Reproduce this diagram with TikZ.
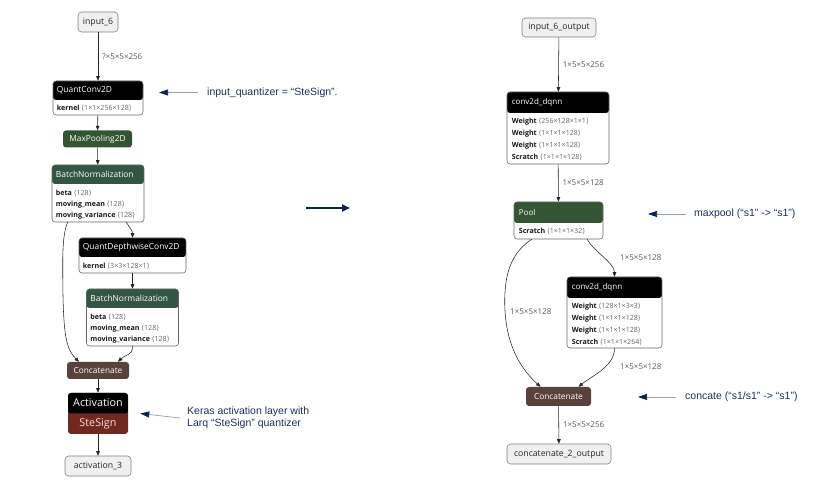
\documentclass[tikz,border=0pt]{standalone}
\usepackage{fontspec}
\setmainfont{Open Sans}
\newfontfamily\annfont{Liberation Sans}
\newfontfamily\brkfont{DejaVu Sans}
\usetikzlibrary{arrows.meta,positioning,calc}
\definecolor{poolgreen}{RGB}{51,85,51}
\definecolor{normgreen}{RGB}{51,85,68}
\definecolor{actred}{RGB}{112,41,33}
\definecolor{tensorbrown}{RGB}{89,66,59}
\definecolor{annblue}{HTML}{1C2F5C}
\definecolor{annline}{HTML}{8FA0B8}
\definecolor{annhead}{HTML}{0B2350}
\newcommand{\shp}[1]{\textcolor{black!60}{{\brkfont ⟨}#1{\brkfont ⟩}}}

\begin{document}
\begin{tikzpicture}[
  x=1pt, y=-1pt,
  edge/.style={draw=black!85, line width=0.55pt, -{Triangle[length=4.5pt,width=3.6pt]}},
  elabel/.style={font=\fontsize{8}{9}\selectfont, text=black!65, inner sep=0pt},
  io/.style={draw=black!50, fill=black!6, rounded corners=3.5pt, line width=0.55pt, inner sep=0pt, font=\fontsize{8.7}{10}\selectfont, text=black!85},
  op/.style={rounded corners=3pt, inner sep=0pt, font=\fontsize{8.3}{10}\selectfont, text=white},
  box/.style 2 args={draw=black!60, fill=white, rounded corners=3pt, line width=0.55pt, inner sep=0pt,
    path picture={\fill[#1] (path picture bounding box.north west) rectangle ([yshift=-#2]path picture bounding box.north east);}},
  hdtxt/.style={font=\fontsize{8.4}{10}\selectfont, text=white, inner sep=0pt, anchor=west},
  bdtxt/.style={font=\fontsize{7.1}{11}\selectfont, text=black!90, align=left, inner sep=0pt, anchor=north west},
  ann/.style={font=\annfont\fontsize{10.5}{12}\selectfont, text=annblue, inner sep=0pt, anchor=west, align=left},
  pointer/.style={draw=annline, line width=0.7pt, -{Triangle[length=9pt,width=6pt,color=annhead]}},
  bigarrow/.style={draw=annhead, line width=2pt, -{Triangle[length=8pt,width=7pt]}}
]
\path[fill=white, use as bounding box] (0,0) rectangle (828,486);

% Keras / Larq model
\node[io, minimum width=40pt, minimum height=20pt] (in6) at (98,22) {input\_6};
\node[box={black}{19pt}, minimum width=90pt, minimum height=34pt] (qconv) at (98,98) {};
\node[hdtxt] (qconvh) at ([xshift=4pt,yshift=-9.5pt]qconv.north west) {QuantConv2D};
\node[bdtxt] (qconvb) at ([xshift=4pt,yshift=-24.5pt]qconv.north west) {\textbf{kernel} \shp{1×1×256×128}};
\node[op, fill=poolgreen, minimum width=69pt, minimum height=17pt] (maxpool) at (97.5,139) {MaxPooling2D};
\node[box={normgreen}{19pt}, minimum width=92pt, minimum height=57pt] (bn1) at (98,193.5) {};
\node[hdtxt] (bn1h) at ([xshift=4pt,yshift=-9.5pt]bn1.north west) {BatchNormalization};
\node[bdtxt] (bn1b) at ([xshift=4pt,yshift=-25.2pt]bn1.north west) {\textbf{beta} \shp{128}\\\textbf{moving\_mean} \shp{128}\\\textbf{moving\_variance} \shp{128}};
\node[box={black}{19pt}, minimum width=107pt, minimum height=35pt] (qdc) at (132.5,255.5) {};
\node[hdtxt] (qdch) at ([xshift=4pt,yshift=-9.5pt]qdc.north west) {QuantDepthwiseConv2D};
\node[bdtxt] (qdcb) at ([xshift=4pt,yshift=-25.2pt]qdc.north west) {\textbf{kernel} \shp{3×3×128×1}};
\node[box={normgreen}{19pt}, minimum width=92pt, minimum height=57pt] (bn2) at (132.5,317.5) {};
\node[hdtxt] (bn2h) at ([xshift=4pt,yshift=-9.5pt]bn2.north west) {BatchNormalization};
\node[bdtxt] (bn2b) at ([xshift=4pt,yshift=-25.2pt]bn2.north west) {\textbf{beta} \shp{128}\\\textbf{moving\_mean} \shp{128}\\\textbf{moving\_variance} \shp{128}};
\node[op, fill=tensorbrown, minimum width=62pt, minimum height=17pt] (concat) at (98,370.5) {Concatenate};
\node[box={black}{20.5pt}, fill=actred, draw=none, minimum width=60pt, minimum height=41pt] (act) at (98,413.5) {};
\node[font=\fontsize{10.8}{12}\selectfont, text=white, inner sep=0pt] (acth) at ([yshift=-10pt]act.north) {Activation};
\node[font=\fontsize{10.8}{12}\selectfont, text=white!85!red, inner sep=0pt] (actb) at ([yshift=10.5pt]act.south) {SteSign};
\node[io, minimum width=66pt, minimum height=20pt] (act3) at (98,466) {activation\_3};

\draw[edge] (in6) -- node[elabel, right=4pt] (lq) {?×5×5×256} (qconv);
\draw[edge] (qconv) -- (maxpool);
\draw[edge] (maxpool) -- (bn1);
\draw[edge] ([xshift=-18pt]bn1.south east) .. controls +(4,6) and +(0,-7) .. (qdc.north);
\draw[edge] ([xshift=16pt]bn1.south west) .. controls +(-4,8) and +(0,-15) .. ++(-5,40)
  .. controls +(0,70) and +(-14,-14) .. ([xshift=-19pt]concat.north);
\draw[edge] (qdc) -- (bn2);
\draw[edge] (bn2.south) .. controls +(0,10) and +(8,-8) .. ([xshift=20pt]concat.north);
\draw[edge] (concat) -- (act);
\draw[edge] (act) -- (act3);

% DQNN model
\node[io, minimum width=74pt, minimum height=19pt] (in6o) at (559,27.5) {input\_6\_output};
\node[box={black}{21pt}, minimum width=102pt, minimum height=72pt] (dq1) at (558,128) {};
\node[hdtxt, font=\fontsize{8}{10}\selectfont] (dq1h) at ([xshift=5pt,yshift=-10.5pt]dq1.north west) {conv2d\_dqnn};
\node[bdtxt, font=\fontsize{7.1}{12}\selectfont] (dq1b) at ([xshift=5pt,yshift=-26.2pt]dq1.north west) {\textbf{Weight} \shp{256×128×1×1}\\\textbf{Weight} \shp{1×1×1×128}\\\textbf{Weight} \shp{1×1×1×128}\\\textbf{Scratch} \shp{1×1×1×128}};
\node[box={poolgreen}{21pt}, minimum width=89pt, minimum height=37pt] (pool) at (558.5,220.5) {};
\node[hdtxt, font=\fontsize{8}{10}\selectfont] (poolh) at ([xshift=5pt,yshift=-10.5pt]pool.north west) {Pool};
\node[bdtxt, font=\fontsize{7.1}{12}\selectfont] (poolb) at ([xshift=5pt,yshift=-26.2pt]pool.north west) {\textbf{Scratch} \shp{1×1×1×32}};
\node[box={black}{21pt}, minimum width=95pt, minimum height=71pt] (dq2) at (614.5,312.5) {};
\node[hdtxt, font=\fontsize{8}{10}\selectfont] (dq2h) at ([xshift=5pt,yshift=-10.5pt]dq2.north west) {conv2d\_dqnn};
\node[bdtxt, font=\fontsize{7.1}{12}\selectfont] (dq2b) at ([xshift=5pt,yshift=-26.2pt]dq2.north west) {\textbf{Weight} \shp{128×1×3×3}\\\textbf{Weight} \shp{1×1×1×128}\\\textbf{Weight} \shp{1×1×1×128}\\\textbf{Scratch} \shp{1×1×1×264}};
\node[op, fill=tensorbrown, minimum width=65pt, minimum height=19pt] (concat2) at (558.5,396.5) {Concatenate};
\node[io, minimum width=104pt, minimum height=20pt] (cat2out) at (559,454) {concatenate\_2\_output};

\draw[edge] (in6o) -- node[elabel, right=4pt] (l1) {1×5×5×256} (dq1);
\draw[edge] (dq1) -- node[elabel, right=4pt] (l2) {1×5×5×128} (pool);
\draw[edge] ([xshift=-16pt]pool.south east) .. controls +(6,12) and +(0,-14) .. (dq2.north);
\draw[edge] ([xshift=18pt]pool.south west) .. controls +(-18,12) and +(0,-32) .. ++(-27,62)
  .. controls +(0,40) and +(-22,-20) .. ([xshift=-18pt]concat2.north);
\draw[edge] (dq2.south) .. controls +(0,18) and +(15,-12) .. ([xshift=20pt]concat2.north);
\draw[edge] (concat2) -- node[elabel, right=4pt] (l6) {1×5×5×256} (cat2out);
\node[elabel, anchor=west] (l3) at (620,258) {1×5×5×128};
\node[elabel, anchor=west] (l4) at (510,312) {1×5×5×128};
\node[elabel, anchor=west] (l5) at (620,367) {1×5×5×128};

% notes
\node[ann] (annq) at (207,92.5) {input\_quantizer = “SteSign”.};
\draw[pointer] ([xshift=-9pt]annq.west) -- ([xshift=-48pt]annq.west);
\node[ann] (annk) at (187,418) {Keras activation layer with\\Larq “SteSign” quantizer};
\draw[pointer] ([xshift=-7pt]annk.west) -- ([xshift=12pt]act.east);
\node[ann] (annp) at (694,214) {maxpool (“s1” -> “s1”)};
\draw[pointer] ([xshift=-8pt]annp.west) -- ([xshift=-46pt]annp.west);
\node[ann] (annc) at (685,397) {concate (“s1/s1” -> “s1”)};
\draw[pointer] ([xshift=-9pt]annc.west) -- ([xshift=-47pt]annc.west);

\coordinate (mfrom) at (306,208);
\coordinate (mto) at (350,208);
\draw[bigarrow] (mfrom) -- (mto);

\end{tikzpicture}
\end{document}
